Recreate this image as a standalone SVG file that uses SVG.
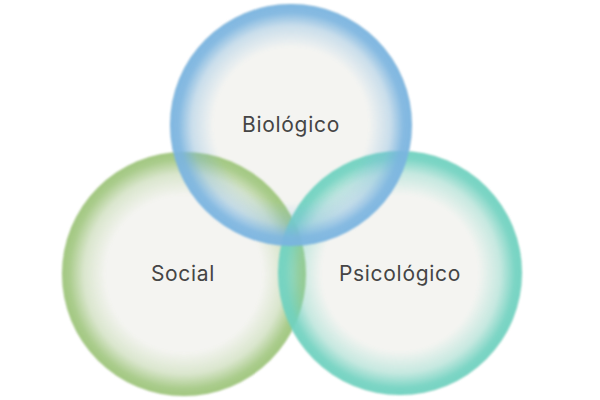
<svg xmlns="http://www.w3.org/2000/svg" width="600" height="400" viewBox="0 0 600 400">
  <defs>
    <radialGradient id="gBlue" cx="0.5" cy="0.5" r="0.5">
      <stop offset="0" stop-color="#7ab4e0" stop-opacity="0"/>
      <stop offset="0.64" stop-color="#7ab4e0" stop-opacity="0"/>
      <stop offset="0.82" stop-color="#7ab4e0" stop-opacity="0.35"/>
      <stop offset="0.93" stop-color="#7ab4e0" stop-opacity="0.9"/>
      <stop offset="1" stop-color="#7ab4e0" stop-opacity="0.95"/>
    </radialGradient>
    <radialGradient id="gGreen" cx="0.5" cy="0.5" r="0.5">
      <stop offset="0" stop-color="#9dc57a" stop-opacity="0"/>
      <stop offset="0.64" stop-color="#9dc57a" stop-opacity="0"/>
      <stop offset="0.82" stop-color="#9dc57a" stop-opacity="0.3"/>
      <stop offset="0.94" stop-color="#9dc57a" stop-opacity="0.85"/>
      <stop offset="1" stop-color="#9dc57a" stop-opacity="0.95"/>
    </radialGradient>
    <radialGradient id="gTeal" cx="0.5" cy="0.5" r="0.5">
      <stop offset="0" stop-color="#6fd2c0" stop-opacity="0"/>
      <stop offset="0.64" stop-color="#6fd2c0" stop-opacity="0"/>
      <stop offset="0.82" stop-color="#6fd2c0" stop-opacity="0.35"/>
      <stop offset="0.94" stop-color="#6fd2c0" stop-opacity="0.9"/>
      <stop offset="1" stop-color="#6fd2c0" stop-opacity="0.95"/>
    </radialGradient>
    <filter id="soft" x="-10%" y="-10%" width="120%" height="120%">
      <feGaussianBlur stdDeviation="1.2"/>
    </filter>
  </defs>
  <style>
    .base { fill: #f4f4f1; filter: url(#soft); }
    .ring { filter: url(#soft); }
    .label { font-family: Inter, "Liberation Sans", sans-serif; font-size: 21px; fill: #454545; text-anchor: middle; letter-spacing: 0.7px; }
  </style>
  <rect width="600" height="400" fill="#ffffff"/>
  <g id="bases">
    <circle class="base" cx="184" cy="274" r="122"/>
    <circle class="base" cx="400" cy="273" r="122"/>
    <circle class="base" cx="291" cy="125" r="121"/>
  </g>
  <g id="social">
    <circle class="ring" cx="184" cy="274" r="122" fill="url(#gGreen)"/>
    <text class="label" x="183" y="281">Social</text>
  </g>
  <g id="psicologico">
    <circle class="ring" cx="400" cy="273" r="122" fill="url(#gTeal)"/>
    <text class="label" x="400" y="281">Psicológico</text>
  </g>
  <g id="biologico">
    <circle class="ring" cx="291" cy="125" r="121" fill="url(#gBlue)"/>
    <text class="label" x="291" y="132">Biológico</text>
  </g>
</svg>
